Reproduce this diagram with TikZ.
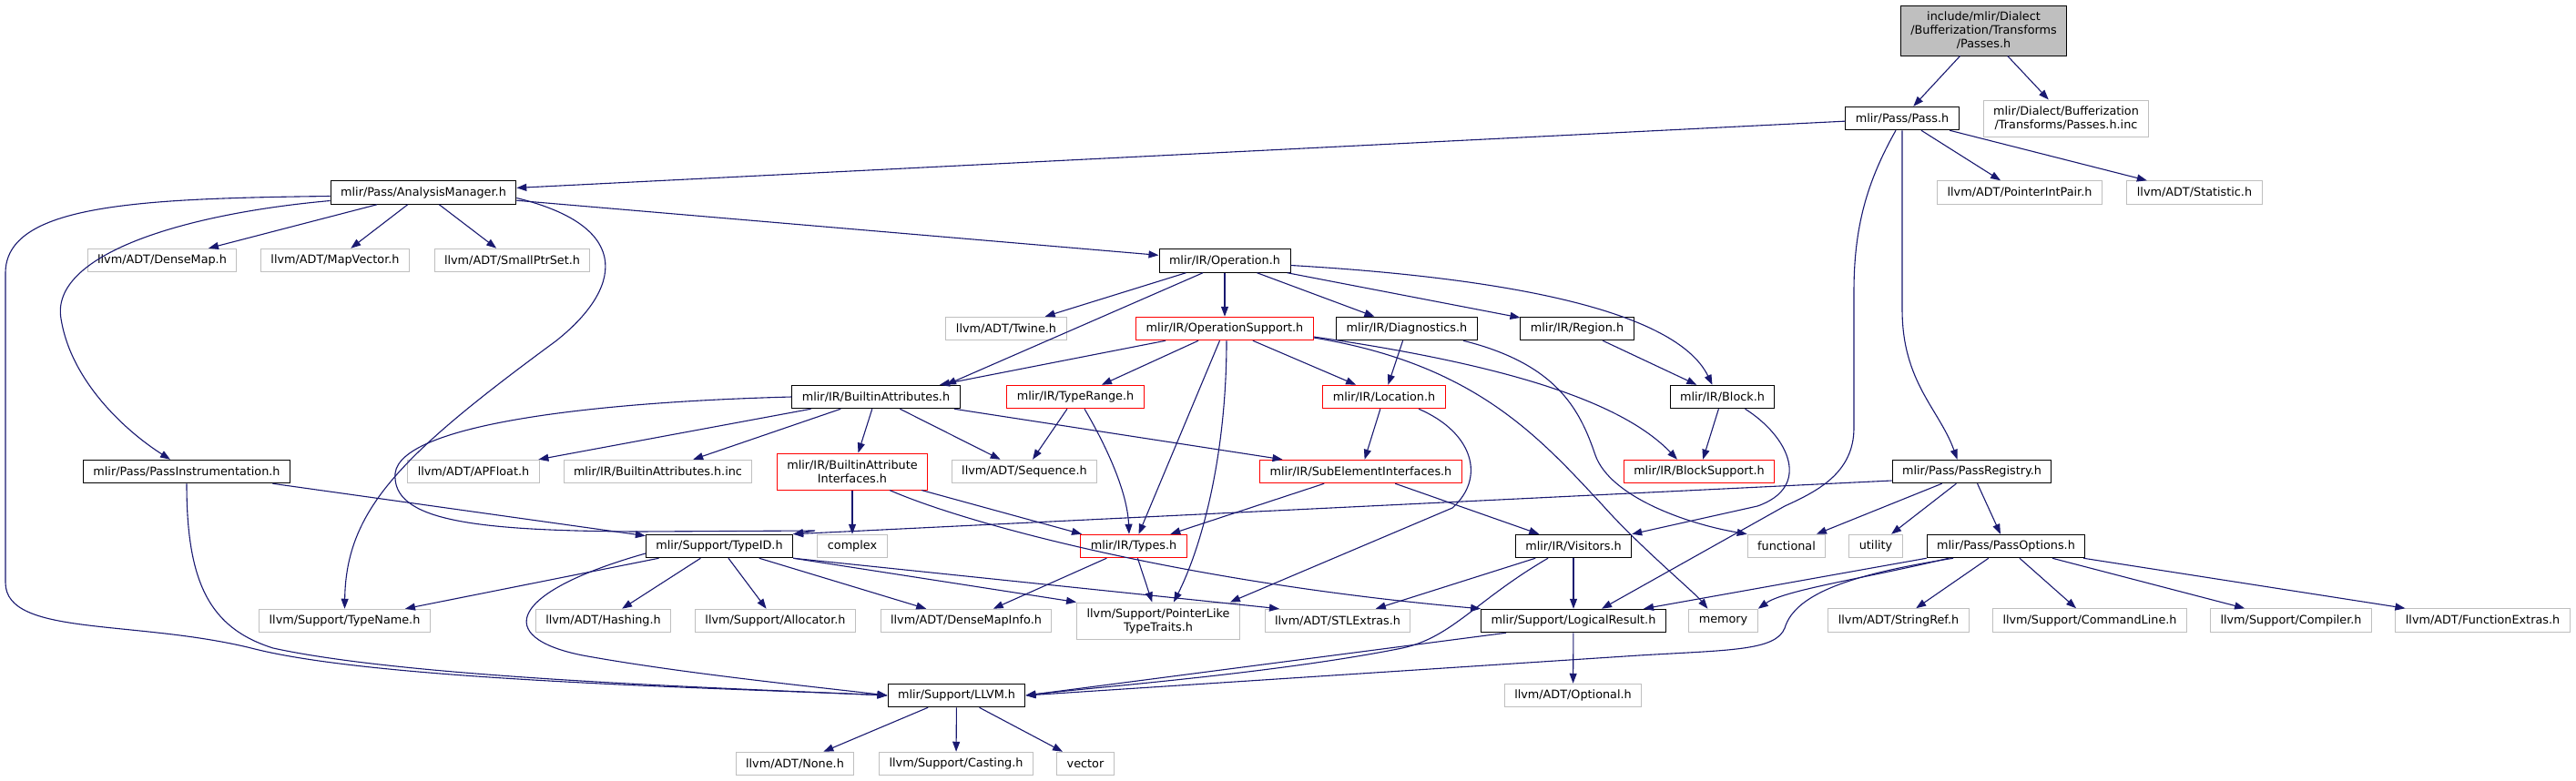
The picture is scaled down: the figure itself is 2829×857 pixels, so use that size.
\documentclass[tikz,border=0pt]{standalone}
\usepackage{fontspec}
\usetikzlibrary{arrows.meta}
\newfontfamily\graphfont{DejaVu Sans}
\definecolor{edgeblue}{HTML}{191970}
\definecolor{extgray}{HTML}{BFBFBF}
\definecolor{rootfill}{HTML}{BFBFBF}

\begin{document}
\begin{tikzpicture}[x=1pt, y=-1pt, >={Triangle[length=11pt,width=8pt]},
    hdr/.style={rectangle, draw, line width=1pt, fill=white, inner xsep=11pt, inner ysep=6.2pt,
      minimum height=25.5pt, align=center, font=\graphfont\fontsize{12.8pt}{15pt}\selectfont},
    docfile/.style={hdr, draw=black},
    redfile/.style={hdr, draw=red},
    extfile/.style={hdr, draw=extgray},
    incl/.style={->, draw=edgeblue, line width=1.1pt}]
    \useasboundingbox (0,0) rectangle (2829,857);

    % Files
    \node[docfile, fill=rootfill, minimum height=55pt] (root) at (2178.5,33.5)
        {include/mlir/Dialect\\/Bufferization/Transforms\\/Passes.h};
    \node[docfile] (pass) at (2089,130) {mlir/Pass/Pass.h};
    \node[extfile, minimum height=40pt] (passinc) at (2269,130)
        {mlir/Dialect/Bufferization\\/Transforms/Passes.h.inc};
    \node[docfile] (anamgr) at (465,211.5) {mlir/Pass/AnalysisManager.h};
    \node[extfile] (ptrpair) at (2218,211.5) {llvm/ADT/PointerIntPair.h};
    \node[extfile] (statistic) at (2410,211.5) {llvm/ADT/Statistic.h};
    \node[extfile] (densemap) at (178,286) {llvm/ADT/DenseMap.h};
    \node[extfile] (mapvector) at (368,286) {llvm/ADT/MapVector.h};
    \node[extfile] (smallptrset) at (562.5,286) {llvm/ADT/SmallPtrSet.h};
    \node[docfile] (operation) at (1345,286.5) {mlir/IR/Operation.h};
    \node[extfile] (twine) at (1105,361) {llvm/ADT/Twine.h};
    \node[redfile] (opsupport) at (1345,361) {mlir/IR/OperationSupport.h};
    \node[docfile] (diagnostics) at (1545,361) {mlir/IR/Diagnostics.h};
    \node[docfile] (region) at (1732,361) {mlir/IR/Region.h};
    \node[docfile] (battrs) at (962,436) {mlir/IR/BuiltinAttributes.h};
    \node[redfile] (typerange) at (1181,436) {mlir/IR/TypeRange.h};
    \node[redfile] (location) at (1520,436) {mlir/IR/Location.h};
    \node[docfile] (block) at (1891.5,436) {mlir/IR/Block.h};
    \node[docfile] (passinstr) at (205,518) {mlir/Pass/PassInstrumentation.h};
    \node[extfile] (apfloat) at (520,518) {llvm/ADT/APFloat.h};
    \node[extfile] (battrsinc) at (722.5,518) {mlir/IR/BuiltinAttributes.h.inc};
    \node[redfile, minimum height=40pt] (battrif) at (936,518)
        {mlir/IR/BuiltinAttribute\\Interfaces.h};
    \node[extfile] (sequence) at (1125,518) {llvm/ADT/Sequence.h};
    \node[redfile] (subelem) at (1494.5,518) {mlir/IR/SubElementInterfaces.h};
    \node[redfile] (blocksupport) at (1866,518) {mlir/IR/BlockSupport.h};
    \node[docfile] (passreg) at (2165.5,518) {mlir/Pass/PassRegistry.h};
    \node[docfile] (typeid) at (790,600) {mlir/Support/TypeID.h};
    \node[extfile] (complex) at (936,600) {complex};
    \node[redfile] (types) at (1245,600) {mlir/IR/Types.h};
    \node[docfile] (visitors) at (1728,600) {mlir/IR/Visitors.h};
    \node[extfile] (functional) at (1962,600) {functional};
    \node[extfile] (utility) at (2060,600) {utility};
    \node[docfile] (passopts) at (2203,600) {mlir/Pass/PassOptions.h};
    \node[extfile] (typename) at (378.5,682) {llvm/Support/TypeName.h};
    \node[extfile] (hashing) at (662.5,682) {llvm/ADT/Hashing.h};
    \node[extfile] (allocator) at (851.5,682) {llvm/Support/Allocator.h};
    \node[extfile] (densemapinfo) at (1061,682) {llvm/ADT/DenseMapInfo.h};
    \node[extfile, minimum height=40pt] (ptrlike) at (1272,682)
        {llvm/Support/PointerLike\\TypeTraits.h};
    \node[extfile] (stlextras) at (1469,682) {llvm/ADT/STLExtras.h};
    \node[docfile] (logicalres) at (1728,682) {mlir/Support/LogicalResult.h};
    \node[extfile] (memory) at (1892.5,682) {memory};
    \node[extfile] (stringref) at (2085,681.5) {llvm/ADT/StringRef.h};
    \node[extfile] (cmdline) at (2295,681.5) {llvm/Support/CommandLine.h};
    \node[extfile] (compiler) at (2516,681.5) {llvm/Support/Compiler.h};
    \node[extfile] (funcextras) at (2726.5,681.5) {llvm/ADT/FunctionExtras.h};
    \node[docfile] (llvm) at (1050.5,764) {mlir/Support/LLVM.h};
    \node[extfile] (optional) at (1727.5,764) {llvm/ADT/Optional.h};
    \node[extfile] (nonehdr) at (873,839) {llvm/ADT/None.h};
    \node[extfile] (casting) at (1050,839) {llvm/Support/Casting.h};
    \node[extfile] (vector) at (1192,839) {vector};

    % Passes.h and Pass.h
    \draw[incl] (root) -- (pass);
    \draw[incl] (root) -- (passinc);
    \draw[incl] (pass) -- (anamgr);
    \draw[incl] (pass) -- (ptrpair);
    \draw[incl] (pass) -- (statistic);
    \draw[incl] (pass.south) -- (2089,340) .. controls (2089,420) and (2130,450) .. ([xshift=-16pt]passreg.north);
    \draw[incl] ([xshift=-7pt]pass.south) .. controls (2050,200) and (2036,250) .. (2036,320) -- (2036,470)
        .. controls (2036,520) and (1995,540) .. (1960,556) -- ([xshift=31pt]logicalres.north);

    % AnalysisManager.h
    \draw[incl] (anamgr) -- (densemap);
    \draw[incl] (anamgr) -- (mapvector);
    \draw[incl] (anamgr) -- (smallptrset);
    \draw[incl] (anamgr) -- (operation);
    \draw[incl] ([yshift=-9pt]anamgr.west) .. controls (200,235) and (55,280) .. (67,350)
        .. controls (78,420) and (140,475) .. ([xshift=-18pt]passinstr.north);
    \draw[incl] ([yshift=-4pt]anamgr.west) .. controls (150,218) and (6,225) .. (6,300) -- (6,640)
        .. controls (6,700) and (150,680) .. (280,713) .. controls (420,748) and (800,756) .. (llvm.west);
    \draw[incl] ([yshift=-6pt]anamgr.east) .. controls (700,250) and (680,320) .. (610,375)
        .. controls (440,500) and (380,560) .. (typename.north);

    % Operation.h
    \draw[incl] (operation) -- (twine);
    \draw[incl] ([xshift=-24pt]operation.south) -- ([xshift=77pt]battrs.north);
    \draw[incl] (operation) -- (opsupport);
    \draw[incl] (operation) -- (diagnostics);
    \draw[incl] (operation) -- (region);
    \draw[incl] ([yshift=-5pt]operation.east) .. controls (1650,305) and (1840,340) .. ([xshift=-11pt]block.north);

    % OperationSupport.h
    \draw[incl] ([xshift=-65pt]opsupport.south) -- ([xshift=70pt]battrs.north);
    \draw[incl] (opsupport) -- (typerange);
    \draw[incl] (opsupport) -- (types);
    \draw[incl] ([xshift=2pt]opsupport.south) .. controls (1347,500) and (1320,600) .. ([xshift=17pt]ptrlike.north);
    \draw[incl] (opsupport) -- (location);
    \draw[incl] ([yshift=-9pt]opsupport.east) .. controls (1650,400) and (1780,440) .. ([xshift=-24pt]blocksupport.north);
    \draw[incl] ([yshift=-10pt]opsupport.east) .. controls (1620,400) and (1690,480) .. (1760,555)
        .. controls (1800,600) and (1860,650) .. ([xshift=-17pt]memory.north);

    % Diagnostics.h, Region.h, Block.h
    \draw[incl] (diagnostics) -- (location);
    \draw[incl] ([xshift=62pt]diagnostics.south) .. controls (1710,400) and (1735,450) .. (1752,500)
        .. controls (1768,545) and (1850,575) .. (functional.north west);
    \draw[incl] (region) -- (block);
    \draw[incl] (block) -- (blocksupport);
    \draw[incl] ([xshift=25pt]block.south) .. controls (1965,480) and (1990,535) .. (1930,556) -- (visitors.north east);

    % Location.h, SubElementInterfaces.h, TypeRange.h
    \draw[incl] (location) -- (subelem);
    \draw[incl] ([xshift=38pt]location.south) .. controls (1618,475) and (1632,525) .. (1595,558) -- ([xshift=-11pt]ptrlike.north east);
    \draw[incl] (subelem) -- (types);
    \draw[incl] (subelem) -- (visitors);
    \draw[incl] (typerange) -- (sequence);
    \draw[incl] ([xshift=10pt]typerange.south) .. controls (1215,490) and (1238,540) .. ([xshift=-5pt]types.north);

    % BuiltinAttributes.h
    \draw[incl] (battrs) -- (apfloat);
    \draw[incl] (battrs) -- (battrsinc);
    \draw[incl] (battrs) -- (battrif);
    \draw[incl] (battrs) -- (sequence);
    \draw[incl] (battrs) -- (subelem);
    \draw[incl] (battrs.west) .. controls (640,442) and (440,468) .. (434,520)
        .. controls (430,572) and (520,583) .. (700,584) -- (895,583) -- (typeid.north east);
    \draw[incl] (battrif) -- (complex);
    \draw[incl] ([xshift=76pt]battrif.south) -- ([xshift=-57pt]types.north);
    \draw[incl] ([xshift=41pt]battrif.south) .. controls (1060,575) and (1300,640) .. (logicalres.north west);

    % Types.h, TypeID.h, PassInstrumentation.h
    \draw[incl] (types) -- (densemapinfo);
    \draw[incl] (types) -- (ptrlike);
    \draw[incl] (typeid) -- (typename);
    \draw[incl] (typeid) -- (hashing);
    \draw[incl] (typeid) -- (allocator);
    \draw[incl] (typeid) -- (densemapinfo);
    \draw[incl] (typeid.south east) -- (ptrlike.north west);
    \draw[incl] (typeid.south east) -- ([xshift=-64pt]stlextras.north);
    \draw[incl] ([yshift=-8pt]typeid.west) .. controls (560,650) and (540,700) .. (640,720)
        .. controls (750,740) and (900,755) .. (llvm.west);
    \draw[incl] (passinstr) -- (typeid);
    \draw[incl] (passinstr.south) .. controls (205,640) and (230,690) .. (300,712)
        .. controls (450,745) and (800,756) .. (llvm.west);

    % Visitors.h, LogicalResult.h, LLVM.h
    \draw[incl] (visitors) -- (stlextras);
    \draw[incl] (visitors) -- (logicalres);
    \draw[incl] ([xshift=-28pt]visitors.south) .. controls (1620,660) and (1595,700) .. (1540,712)
        .. controls (1400,740) and (1200,755) .. (llvm.east);
    \draw[incl] ([xshift=-74pt]logicalres.south) -- (llvm.east);
    \draw[incl] (logicalres) -- (optional);
    \draw[incl] (llvm) -- (nonehdr);
    \draw[incl] (llvm) -- (casting);
    \draw[incl] (llvm) -- (vector);

    % PassRegistry.h, PassOptions.h
    \draw[incl] ([yshift=-10pt]passreg.west) -- (typeid.north east);
    \draw[incl] (passreg) -- (functional);
    \draw[incl] (passreg) -- (utility);
    \draw[incl] (passreg) -- (passopts);
    \draw[incl] (passopts) -- (stringref);
    \draw[incl] (passopts) -- (cmdline);
    \draw[incl] (passopts) -- (compiler);
    \draw[incl] (passopts) -- (funcextras);
    \draw[incl] (passopts.south west) -- ([xshift=77pt]logicalres.north);
    \draw[incl] ([xshift=-63pt]passopts.south) .. controls (2050,635) and (1960,648) .. (memory.north east);
    \draw[incl] ([xshift=-58pt]passopts.south) .. controls (2040,630) and (1972,650) .. (1960,690)
        .. controls (1950,715) and (1900,714) .. (1800,720) -- (llvm.east);
\end{tikzpicture}
\end{document}
